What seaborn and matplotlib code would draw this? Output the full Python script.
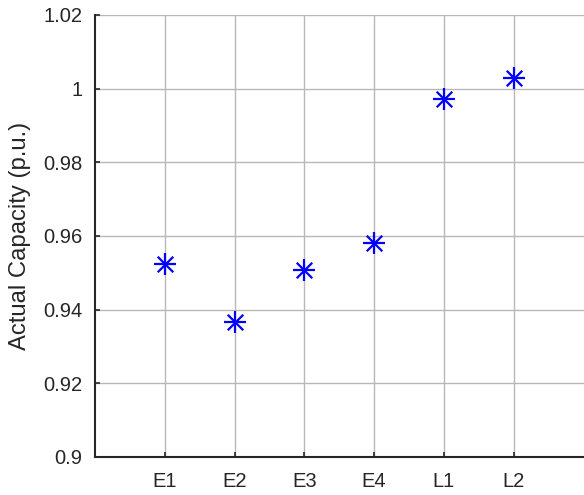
import matplotlib
matplotlib.use("Agg")
import matplotlib.pyplot as plt
import seaborn as sns
import pandas as pd

# data
cases = ["E1", "E2", "E3", "E4", "L1", "L2"]
capacity = [0.9524, 0.9366, 0.9508, 0.9580, 0.9973, 1.0030]

df = pd.DataFrame({"case": cases, "capacity": capacity})

sns.set_style("white")
plt.rcParams['font.family'] = ['Liberation Sans', 'DejaVu Sans']

fig = plt.figure(figsize=(5.84, 4.95), dpi=100)
ax = fig.add_axes([0.1627, 0.0768, 0.8365, 0.8929])

# matlab style asterisk: plus + cross
sns.scatterplot(data=df, x="case", y="capacity", marker="+", s=250,
                color="#0000ff", linewidth=1.6, ax=ax, zorder=3)
sns.scatterplot(data=df, x="case", y="capacity", marker="x", s=125,
                color="#0000ff", linewidth=1.6, ax=ax, zorder=3)

ax.set_xlim(-1, 6)
ax.set_ylim(0.9, 1.02)
ax.set_yticks([0.9, 0.92, 0.94, 0.96, 0.98, 1.0, 1.02])
ax.set_yticklabels(["0.9", "0.92", "0.94", "0.96", "0.98", "1", "1.02"])
ax.set_xlabel("")
ax.set_ylabel("Actual Capacity (p.u.)", fontsize=17.2, color="#262626",
              labelpad=9)

ax.grid(True, color="#b8b8b8", linewidth=1)
ax.set_axisbelow(True)
for side in ["top", "right"]:
    ax.spines[side].set_visible(False)
for side in ["left", "bottom"]:
    ax.spines[side].set_color("#262626")
    ax.spines[side].set_linewidth(1.5)
ax.tick_params(direction="in", length=3.6, width=1.2, colors="#262626",
               labelsize=14.5, left=True, bottom=True)
ax.tick_params(axis="y", pad=9)
ax.tick_params(axis="x", pad=11)

plt.savefig("out.png", dpi=100)
